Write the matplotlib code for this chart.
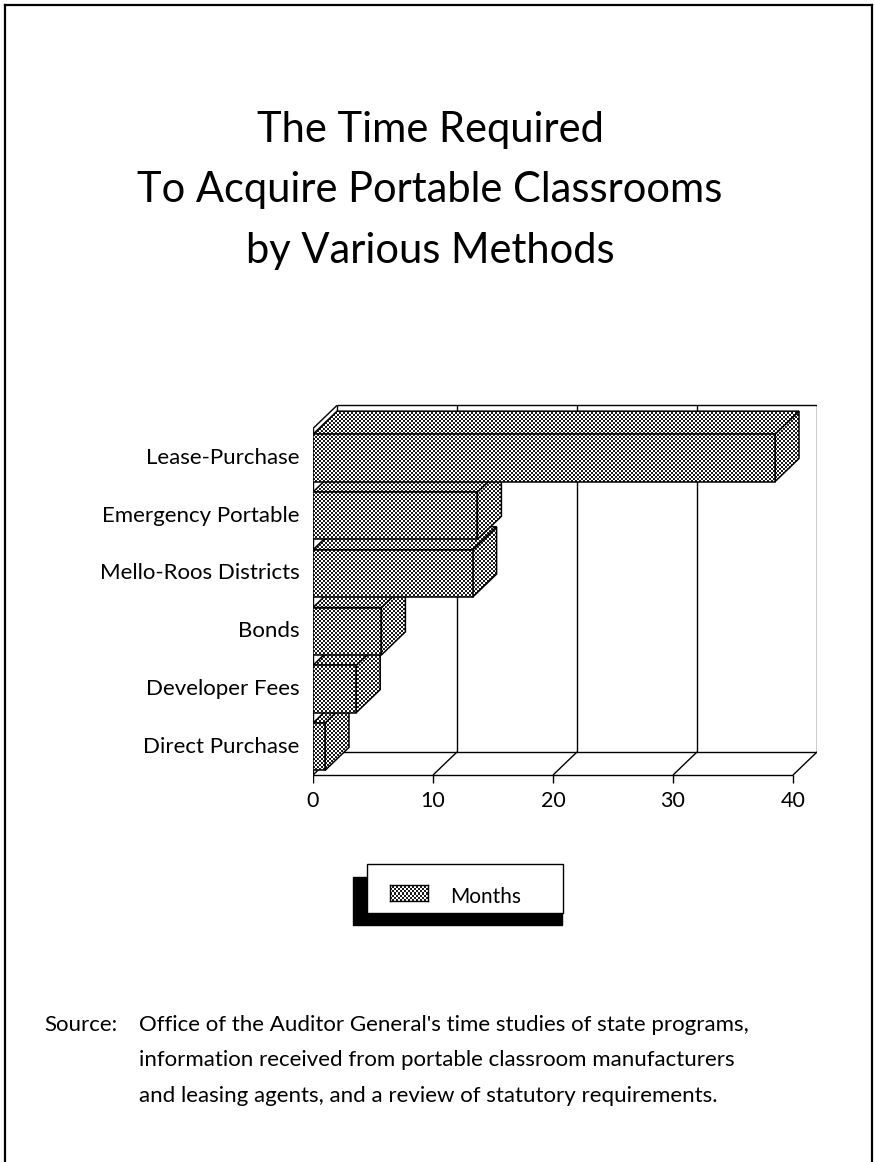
import numpy as np
import matplotlib.pyplot as plt
from matplotlib.patches import Polygon, Rectangle
from matplotlib.colors import ListedColormap
from matplotlib.lines import Line2D

plt.rcParams['font.family'] = ['Lato', 'DejaVu Sans']

# months needed by each acquisition method (listed bottom to top)
methods = ['Direct Purchase', 'Developer Fees', 'Bonds',
           'Mello-Roos Districts', 'Emergency Portable', 'Lease-Purchase']
months = [1.0, 3.6, 5.7, 13.3, 13.7, 38.5]
xticks = [0, 10, 20, 30, 40]

title_lines = ['The Time Required', 'To Acquire Portable Classrooms',
               'by Various Methods']
source_lines = ["Office of the Auditor General's time studies of state programs,",
                'information received from portable classroom manufacturers',
                'and leasing agents, and a review of statutory requirements.']

W, H = 875, 1162
fig = plt.figure(figsize=(W / 100, H / 100), dpi=100)


def fy(y):
    # pixel row from the top -> figure fraction
    return 1 - y / H


# depth of the fake 3-D box in data units
DX, DY = 2.0, 0.4
XMAX = 40
X0, X1 = 0, XMAX + DX
Y0, Y1 = -0.25, 6.45

ax_px = (313, 789.5, 504, 387)  # left, bottom (from top), width, height
ax = fig.add_axes([ax_px[0] / W, fy(ax_px[1]), ax_px[2] / W, ax_px[3] / H])
ax.set_xlim(X0, X1)
ax.set_ylim(Y0, Y1)
ax.axis('off')

# dotted screen used for the bar faces
rows, cols = np.indices((ax_px[3], ax_px[2]))
screen = ((rows // 2 + cols // 2) % 2).astype(float)
dots = ListedColormap(['#1c1c1c', 'white'])


def textured(poly_pts, z):
    face = Polygon(poly_pts, closed=True, facecolor='white', edgecolor='none', zorder=z)
    ax.add_patch(face)
    im = ax.imshow(screen, cmap=dots, extent=[X0, X1, Y0, Y1], origin='upper',
                   interpolation='nearest', aspect='auto', zorder=z + 0.1)
    im.set_clip_path(face)
    ax.add_patch(Polygon(poly_pts, closed=True, facecolor='none', edgecolor='black',
                         lw=1.1, zorder=z + 0.2))


lk = dict(color='black', lw=1.0, solid_capstyle='butt')
# back wall
ax.plot([DX, XMAX + DX, XMAX + DX], [6 + DY, 6 + DY, DY], **lk, zorder=1)
ax.plot([DX, DX], [DY, 6 + DY], **lk, zorder=1)
for t in xticks[1:-1]:
    ax.plot([t + DX, t + DX], [DY, 6 + DY], **lk, zorder=1)
# floor
ax.plot([0, XMAX], [0, 0], **lk, zorder=1)
ax.plot([DX, XMAX + DX], [DY, DY], **lk, zorder=1)
for t in xticks:
    ax.plot([t, t + DX], [0, DY], **lk, zorder=1)
    ax.plot([t, t], [0, -0.14], **lk, zorder=1)
    ax.text(t, -0.45, str(t), ha='center', va='center', fontsize=15.5)
# left edge of the front plane
ax.plot([0, 0], [0, 6], **lk, zorder=1)
ax.plot([0, DX], [6, 6 + DY], **lk, zorder=1)

# bars, drawn bottom up so the upper ones hide the lower tops
for j, (name, v) in enumerate(zip(methods, months)):
    b, t = j + 0.08, j + 0.90
    z = 5 + j
    textured([(v, b), (v + DX, b + DY), (v + DX, t + DY), (v, t)], z)
    textured([(0, t), (v, t), (v + DX, t + DY), (DX, t + DY)], z + 0.3)
    textured([(0, b), (v, b), (v, t), (0, t)], z + 0.6)
    ax.text(-1.1, j + 0.49, name, ha='right', va='center', fontsize=16)

for line, base in zip(title_lines, [142, 202, 263]):
    fig.text(430 / W, fy(base), line, ha='center', va='baseline', fontsize=30)

# legend box with a solid drop shadow
fig.patches.append(Rectangle((353 / W, fy(925)), 209 / W, 48 / H,
                             transform=fig.transFigure, facecolor='black',
                             edgecolor='black', zorder=1))
fig.patches.append(Rectangle((367 / W, fy(913)), 196 / W, 49 / H,
                             transform=fig.transFigure, facecolor='white',
                             edgecolor='black', lw=1.0, zorder=2))
lax = fig.add_axes([390 / W, fy(901), 38 / W, 16 / H], zorder=3)
lax.imshow(screen[:16, :38], cmap=dots, interpolation='nearest', aspect='auto')
lax.set_xticks([])
lax.set_yticks([])
for s in lax.spines.values():
    s.set_linewidth(1.0)
fig.text(450 / W, fy(903), 'Months', ha='left', va='baseline', fontsize=15,
         zorder=4)

# source note
fig.text(44 / W, fy(1031), 'Source:', ha='left', va='baseline', fontsize=16)
for line, base in zip(source_lines, [1031, 1066, 1102]):
    fig.text(139 / W, fy(base), line, ha='left', va='baseline', fontsize=16)

# page frame (runs off the bottom)
for xs, ys in [([5, 5], [5, 1162]), ([5, 872], [5, 5]), ([872, 872], [5, 1162])]:
    fig.add_artist(Line2D([x / W for x in xs], [fy(y) for y in ys],
                          transform=fig.transFigure, color='black', lw=1.6))

fig.savefig('out.png', dpi=100)
